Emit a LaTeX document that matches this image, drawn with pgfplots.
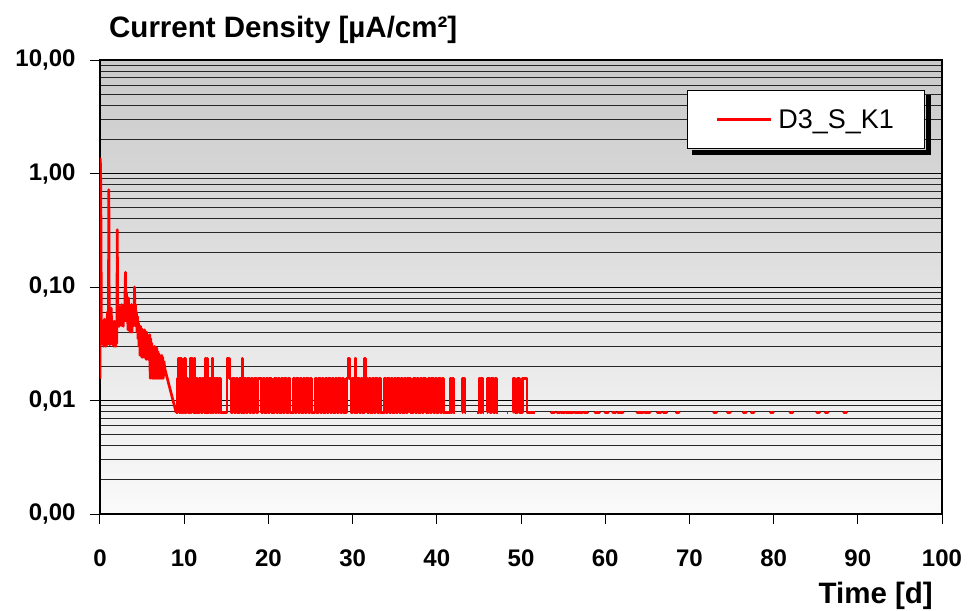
\documentclass[border=0pt]{standalone}
\usepackage{pgfplots}
\pgfplotsset{compat=1.18}
\usepackage{pgfplotstable}
\usepackage{fontspec}
\setmainfont{Liberation Sans}

\pgfplotstableread{
t v
0.00 0.0155
0.04 1.35
0.08 0.9
0.12 0.3
0.16 0.045
0.22 0.032
0.28 0.05
0.34 0.031
0.40 0.048
0.46 0.03
0.52 0.052
0.58 0.032
0.64 0.045
0.70 0.03
0.76 0.05
0.82 0.031
0.88 0.06
0.94 0.035
1.00 0.06
1.05 0.72
1.10 0.05
1.16 0.031
1.22 0.055
1.28 0.032
1.34 0.065
1.40 0.034
1.46 0.05
1.52 0.031
1.58 0.048
1.64 0.03
1.70 0.05
1.76 0.031
1.82 0.045
1.88 0.03
1.94 0.05
2.00 0.032
2.05 0.32
2.10 0.06
2.16 0.045
2.22 0.068
2.28 0.045
2.34 0.065
2.40 0.046
2.46 0.06
2.52 0.046
2.58 0.07
2.64 0.047
2.70 0.065
2.76 0.045
2.82 0.06
2.88 0.05
2.95 0.07
3.02 0.135
3.08 0.06
3.14 0.09
3.20 0.05
3.26 0.075
3.32 0.042
3.38 0.08
3.44 0.045
3.50 0.07
3.56 0.04
3.62 0.065
3.68 0.045
3.74 0.07
3.80 0.04
3.86 0.06
3.92 0.045
3.98 0.065
4.04 0.05
4.10 0.1
4.16 0.055
4.22 0.07
4.28 0.045
4.34 0.06
4.40 0.04
4.46 0.055
4.52 0.035
4.58 0.048
4.64 0.03
4.70 0.045
4.76 0.025
4.82 0.045
4.88 0.028
4.94 0.043
5.00 0.024
5.06 0.042
5.12 0.026
5.18 0.04
5.24 0.024
5.30 0.042
5.36 0.025
5.42 0.038
5.48 0.023
5.54 0.04
5.60 0.025
5.66 0.036
5.72 0.023
5.78 0.035
5.84 0.024
5.90 0.038
5.96 0.0157
6.02 0.035
6.08 0.016
6.14 0.032
6.20 0.0157
6.26 0.03
6.32 0.0157
6.38 0.029
6.44 0.0157
6.50 0.03
6.56 0.0157
6.62 0.028
6.68 0.0157
6.74 0.029
6.80 0.0157
6.86 0.027
6.92 0.0157
6.98 0.026
7.04 0.0157
7.10 0.025
7.16 0.0157
7.22 0.024
7.28 0.0157
7.34 0.025
7.40 0.0157
7.46 0.024
7.52 0.0157
7.60 0.022
7.70 0.019
9.05 0.0078
}\earlydata

\pgfplotstableread{
t v
9.05 0.0078
9.2 0.0156
9.3 0.0234
9.42 0.0078
9.55 0.0234
9.68 0.0078
9.8 0.0156
9.95 0.0078
10.05 0.0234
10.15 0.0078
10.3 0.0156
10.45 0.0078
10.7 0.0234
10.8 0.0078
10.9 0.0234
11.0 0.0156
11.1 0.0078
11.2 0.0234
11.3 0.0078
11.45 0.0156
11.6 0.0078
11.8 0.0156
12.0 0.0078
12.2 0.0156
12.4 0.0078
12.5 0.0234
12.6 0.0078
12.7 0.0234
12.8 0.0078
12.95 0.0156
13.1 0.0078
13.3 0.0234
13.42 0.0078
13.55 0.0156
13.7 0.0078
13.85 0.0156
14.0 0.0078
14.15 0.0156
14.3 0.0078
15.1 0.0234
15.35 0.0156
15.55 0.0078
15.75 0.0156
15.95 0.0078
16.15 0.0156
16.35 0.0078
16.55 0.0156
16.75 0.0078
16.85 0.0234
16.95 0.0078
17.15 0.0156
17.35 0.0078
17.55 0.0156
17.75 0.0078
17.95 0.0156
18.15 0.0078
18.35 0.0156
18.55 0.0078
18.75 0.0156
19.15 0.0078
19.35 0.0156
19.55 0.0078
19.75 0.0156
19.95 0.0078
20.15 0.0156
20.35 0.0078
20.75 0.0156
20.95 0.0078
21.15 0.0156
21.35 0.0078
21.55 0.0156
21.75 0.0078
21.95 0.0156
22.15 0.0078
22.35 0.0156
22.55 0.0078
22.95 0.0156
23.15 0.0078
23.35 0.0156
23.55 0.0078
23.75 0.0156
23.95 0.0078
24.15 0.0156
24.35 0.0078
24.55 0.0156
24.75 0.0078
24.95 0.0156
25.15 0.0078
25.55 0.0156
25.75 0.0078
25.95 0.0156
26.15 0.0078
26.35 0.0156
26.55 0.0078
26.75 0.0156
26.95 0.0078
27.15 0.0156
27.35 0.0078
27.55 0.0156
27.75 0.0078
27.95 0.0156
28.15 0.0078
28.35 0.0156
28.55 0.0078
28.75 0.0156
28.95 0.0078
29.3 0.0156
29.45 0.0234
29.6 0.0156
29.8 0.0078
30.0 0.0156
30.2 0.0078
30.3 0.0234
30.4 0.0078
30.6 0.0156
30.8 0.0078
31.0 0.0156
31.2 0.0078
31.45 0.0234
31.55 0.0156
31.75 0.0078
31.95 0.0156
32.15 0.0078
32.35 0.0156
32.55 0.0078
32.75 0.0156
32.95 0.0078
33.15 0.0156
33.35 0.0078
33.75 0.0156
33.95 0.0078
34.15 0.0156
34.35 0.0078
34.55 0.0156
34.75 0.0078
34.95 0.0156
35.15 0.0078
35.35 0.0156
35.55 0.0078
35.75 0.0156
35.95 0.0078
36.15 0.0156
36.35 0.0078
36.55 0.0156
36.85 0.0078
37.25 0.0156
37.45 0.0078
37.65 0.0156
37.85 0.0078
38.05 0.0156
38.25 0.0078
38.45 0.0156
38.7 0.0078
39.0 0.0156
39.2 0.0078
39.4 0.0156
39.6 0.0078
39.8 0.0156
40.0 0.0078
40.2 0.0156
40.4 0.0078
40.6 0.0156
40.8 0.0078
41.55 0.0156
41.7 0.0078
41.8 0.0156
41.95 0.0078
42.2 0.0078
42.3 nan
43.0 0.0078
43.05 0.0156
43.35 0.0078
43.4 0.0078
43.5 nan
44.8 0.0078
45.0 0.0156
45.2 0.0078
45.3 0.0156
45.5 0.0078
45.6 0.0078
45.7 nan
46.0 0.0078
46.05 0.0156
46.3 0.0078
46.5 0.0156
46.7 0.0078
46.9 0.0156
47.1 0.0078
47.2 0.0078
47.3 nan
48.3 0.0078
48.45 0.0078
48.5 nan
49.0 0.0078
49.05 0.0156
49.3 0.0078
49.6 0.0156
49.8 0.0078
50.2 0.0156
50.7 0.0078
51.7 0.0078
}\middata

\pgfplotstableread{
t v
53.6 0.0078
53.95 0.0078
54.0 nan
54.3 0.0078
54.6 0.0078
54.65 nan
54.75 0.0078
55.2 0.0078
55.3 nan
55.4 0.0078
56.2 0.0078
56.3 nan
56.4 0.0078
57.3 0.0078
57.4 nan
57.5 0.0078
57.9 0.0078
58.0 nan
58.8 0.0078
59.3 0.0078
59.4 nan
60.0 0.0078
60.35 0.0078
60.4 nan
60.9 0.0078
61.25 0.0078
61.3 nan
61.5 0.0078
62.1 0.0078
62.2 nan
63.8 0.0078
64.5 0.0078
64.6 nan
64.7 0.0078
65.3 0.0078
65.4 nan
66.2 0.0078
66.6 0.0078
66.7 nan
66.9 0.0078
67.3 0.0078
67.4 nan
68.45 0.0078
68.75 0.0078
68.8 nan
72.9 0.0078
73.2 0.0078
73.3 nan
74.55 0.0078
74.85 0.0078
74.9 nan
76.4 0.0078
76.75 0.0078
76.8 nan
77.35 0.0078
77.65 0.0078
77.7 nan
79.65 0.0078
79.95 0.0078
80.0 nan
81.95 0.0078
82.25 0.0078
82.3 nan
85.15 0.0078
85.45 0.0078
85.5 nan
86.15 0.0078
86.45 0.0078
86.5 nan
88.35 0.0078
88.65 0.0078
}\latedata

\begin{document}
\begin{tikzpicture}
\path[use as bounding box] (-100pt,-96pt) rectangle (868pt,514pt);
\begin{axis}[
  at={(0,0)}, anchor=south west,
  scale only axis,
  width=842pt, height=454pt,
  ymode=log,
  xmin=0, xmax=100,
  ymin=0.001, ymax=10,
  axis background/.style={top color=black!21, bottom color=black!2},
  axis line style={black, line width=1.5pt},
  xtick={0,10,...,100},
  xticklabels={0,10,20,30,40,50,60,70,80,90,100},
  ytick={0.001,0.01,0.1,1,10},
  yticklabels={{0,00},{0,01},{0,10},{1,00},{10,00}},
  xtick pos=bottom, ytick pos=left,
  tick align=outside,
  major tick length=10pt,
  minor tick length=0pt,
  tick style={black, line width=1pt},
  ymajorgrids, yminorgrids,
  major grid style={black, line width=0.9pt},
  minor grid style={black!85, line width=0.9pt},
  ticklabel style={font=\fontsize{24}{28}\selectfont\bfseries},
  xticklabel style={yshift=-22pt},
  yticklabel style={xshift=-11pt},
  unbounded coords=jump,
  legend style={name=leg, at={(0.9798,0.934)}, anchor=north east, draw=black, line width=1pt,
    fill=white, inner xsep=28.5pt, inner ysep=17pt,
    font=\fontsize{27}{32}\selectfont,
    nodes={inner sep=2pt},
    /tikz/every odd column/.append style={column sep=4pt}},
  legend image code/.code={\draw[red, line width=2.7pt] (0pt,0pt) -- (54pt,0pt);},
]
\addplot[red, line width=2.7pt, line join=round, forget plot] table[x=t, y=v] {\earlydata};
\addplot[red, line width=2.7pt, line join=round, const plot mark left] table[x=t, y=v] {\middata};
\addlegendentry{D3\_S\_K1}
\addplot[red, line width=3pt, line cap=round, forget plot] table[x=t, y=v] {\latedata};
\end{axis}
\fill[black] ([xshift=5pt,yshift=-5.5pt]leg.south west) rectangle ([xshift=5.5pt,yshift=-0.5pt]leg.south east);
\fill[black] ([xshift=0.5pt,yshift=-5pt]leg.north east) rectangle ([xshift=5.5pt,yshift=-5.5pt]leg.south east);
\node[anchor=base west, inner sep=0pt, font=\fontsize{29.5}{34}\selectfont\bfseries] at (9pt,476pt) {Current Density [µA/cm²]};
\node[anchor=base east, inner sep=0pt, font=\fontsize{29.5}{34}\selectfont\bfseries] at (833pt,-89pt) {Time [d]};
\end{tikzpicture}
\end{document}
